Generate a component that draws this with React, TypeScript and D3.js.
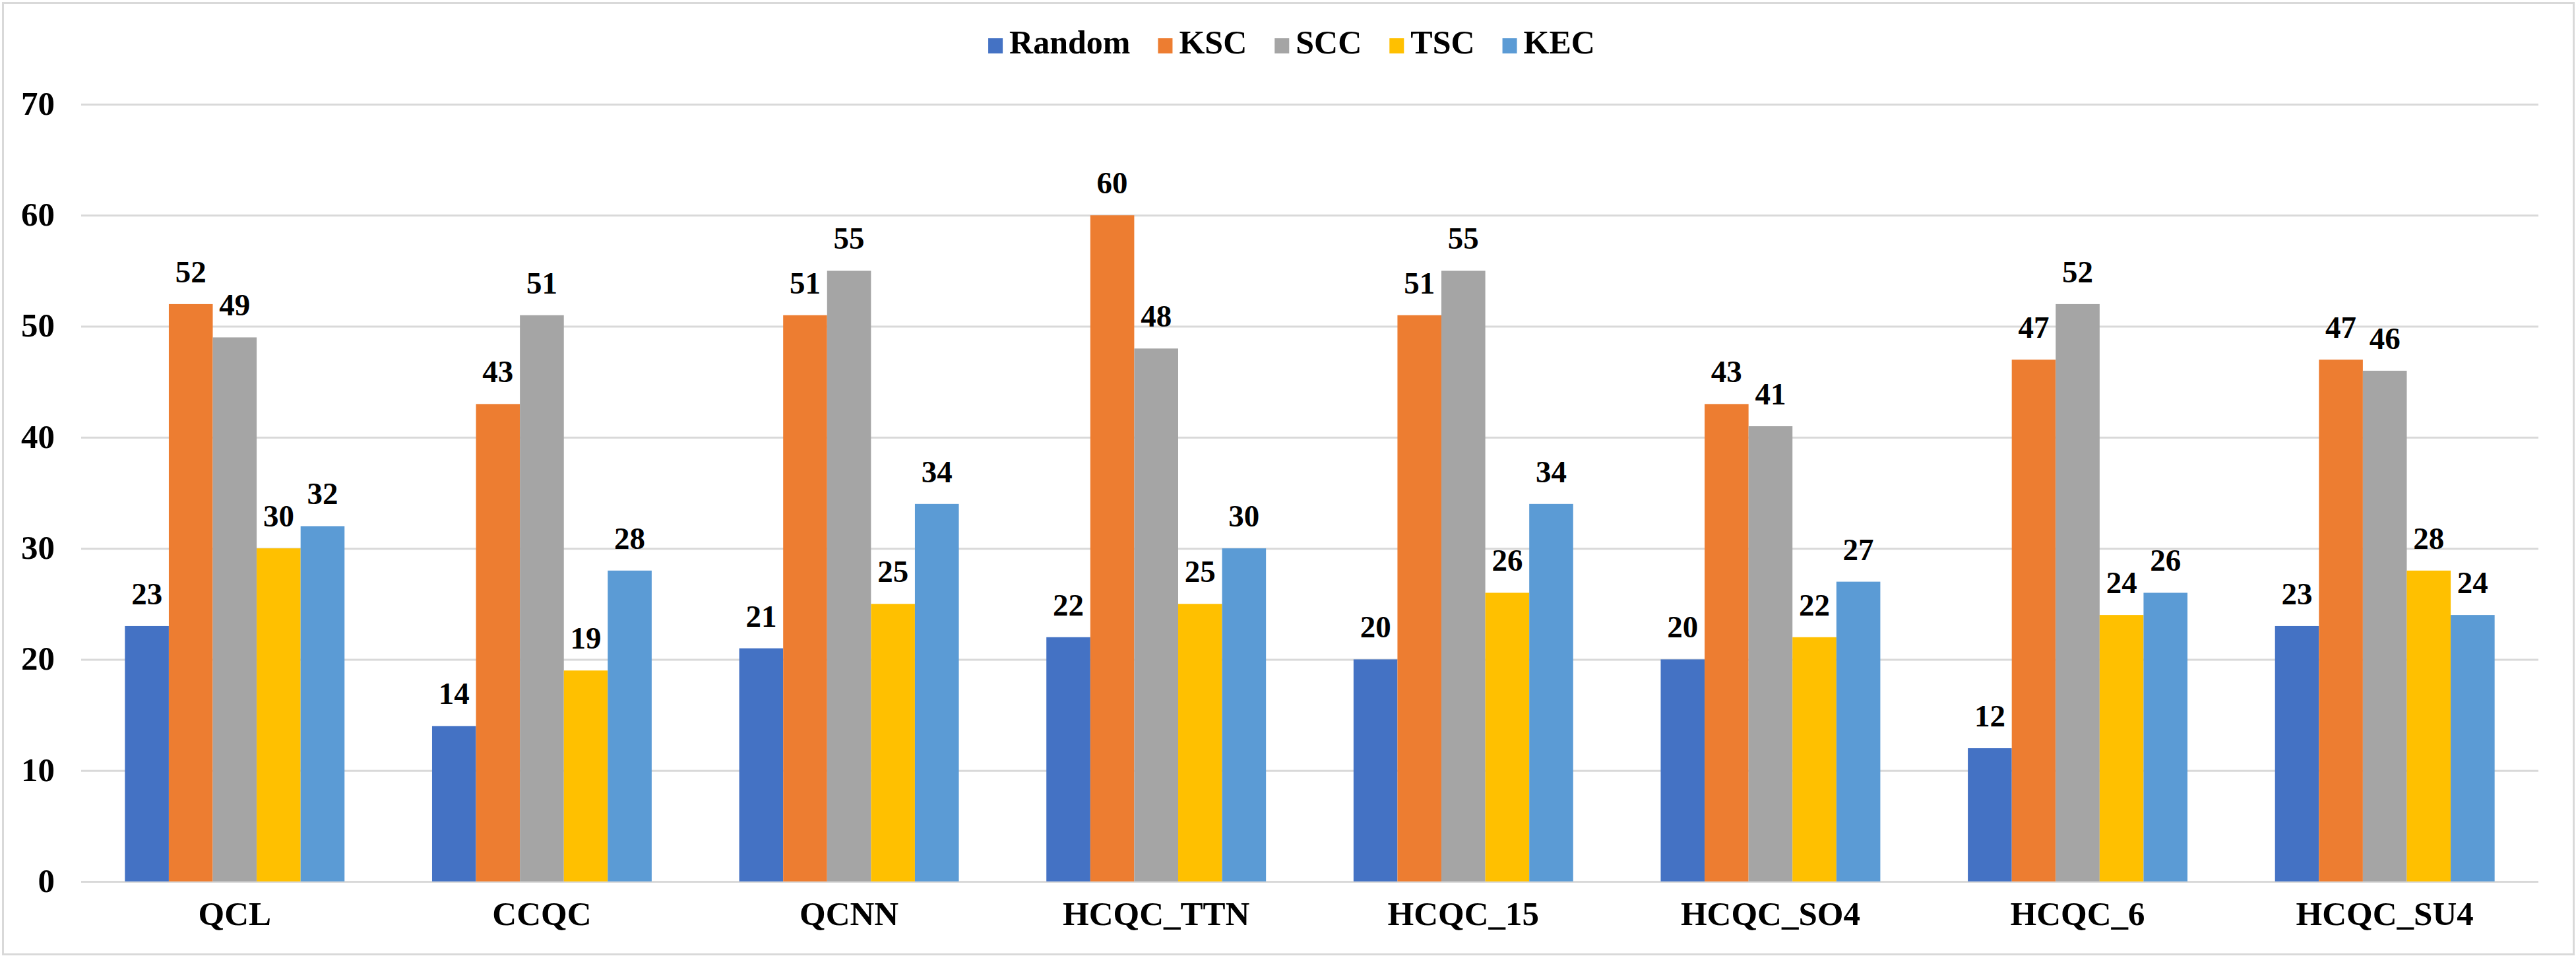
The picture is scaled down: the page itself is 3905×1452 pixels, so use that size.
import { useEffect, useRef } from "react";
import * as d3 from "d3";

const categories = [
  "QCL",
  "CCQC",
  "QCNN",
  "HCQC_TTN",
  "HCQC_15",
  "HCQC_SO4",
  "HCQC_6",
  "HCQC_SU4",
];

const seriesNames = ["Random", "KSC", "SCC", "TSC", "KEC"];

const randomValues = [23, 14, 21, 22, 20, 20, 12, 23];
const kscValues = [52, 43, 51, 60, 51, 43, 47, 47];
const sccValues = [49, 51, 55, 48, 55, 41, 52, 46];
const tscValues = [30, 19, 25, 25, 26, 22, 24, 28];
const kecValues = [32, 28, 34, 30, 34, 27, 26, 24];

const seriesValues = [randomValues, kscValues, sccValues, tscValues, kecValues];
const seriesColors = ["#4472C4", "#ED7D31", "#A5A5A5", "#FFC000", "#5B9BD5"];

const yTicks = [0, 10, 20, 30, 40, 50, 60, 70];

const width = 3905;
const height = 1452;
const margin = { top: 158, right: 57, bottom: 116, left: 123 };
const font = "'Liberation Serif', 'Times New Roman', serif";
const gridColor = "#d9d9d9";

export default function App() {
  const ref = useRef<SVGSVGElement>(null);

  useEffect(() => {
    if (!ref.current) return;
    const svg = d3.select(ref.current);
    svg.selectAll("*").remove();

    const x0 = d3
      .scaleBand<string>()
      .domain(categories)
      .range([margin.left, width - margin.right])
      .paddingInner(0.285)
      .paddingOuter(0.1425);

    const x1 = d3
      .scaleBand<string>()
      .domain(seriesNames)
      .range([0, x0.bandwidth()]);

    const y = d3
      .scaleLinear()
      .domain([0, 70])
      .range([height - margin.bottom, margin.top]);

    // chart frame
    svg
      .append("rect")
      .attr("x", 4.5)
      .attr("y", 4.5)
      .attr("width", width - 8)
      .attr("height", height - 10)
      .attr("fill", "#ffffff")
      .attr("stroke", gridColor)
      .attr("stroke-width", 3);

    // gridlines + y labels
    const yAxis = svg
      .append("g")
      .attr("transform", `translate(${margin.left},0)`)
      .call(
        d3
          .axisLeft(y)
          .tickValues(yTicks)
          .tickSize(-(width - margin.left - margin.right))
          .tickPadding(40)
          .tickFormat(d3.format("d")),
      );
    yAxis.select(".domain").remove();
    yAxis
      .selectAll(".tick line")
      .attr("stroke", gridColor)
      .attr("stroke-width", 3);
    yAxis
      .selectAll(".tick text")
      .attr("font-family", font)
      .attr("font-weight", "bold")
      .attr("font-size", 51)
      .attr("fill", "#000000")
      .attr("dy", "0.3em");

    // bars
    const groups = svg
      .append("g")
      .selectAll("g")
      .data(categories)
      .join("g")
      .attr("transform", (c) => `translate(${x0(c)},0)`);

    const cells = groups
      .selectAll("g")
      .data((_, ci) =>
        seriesNames.map((name, si) => ({
          name,
          value: seriesValues[si][ci],
          color: seriesColors[si],
        })),
      )
      .join("g");

    cells
      .append("rect")
      .attr("x", (d) => x1(d.name) ?? 0)
      .attr("y", (d) => y(d.value))
      .attr("width", x1.bandwidth())
      .attr("height", (d) => y(0) - y(d.value))
      .attr("fill", (d) => d.color);

    cells
      .append("text")
      .attr("x", (d) => (x1(d.name) ?? 0) + x1.bandwidth() / 2)
      .attr("y", (d) => y(d.value) - 33)
      .attr("text-anchor", "middle")
      .attr("font-family", font)
      .attr("font-weight", "bold")
      .attr("font-size", 47)
      .attr("fill", "#000000")
      .text((d) => d.value);

    // category labels
    const xAxis = svg
      .append("g")
      .attr("transform", `translate(0,${height - margin.bottom})`)
      .call(d3.axisBottom(x0).tickSize(0).tickPadding(30));
    xAxis.select(".domain").remove();
    xAxis
      .selectAll(".tick text")
      .attr("font-family", font)
      .attr("font-weight", "bold")
      .attr("font-size", 51)
      .attr("fill", "#000000")
      .attr("dy", "0.71em");

    // legend
    const legend = svg.append("g");
    const items = legend
      .selectAll("g")
      .data(seriesNames)
      .join("g");
    items
      .append("rect")
      .attr("y", 58)
      .attr("width", 22)
      .attr("height", 23)
      .attr("fill", (_, i) => seriesColors[i]);
    const labels = items
      .append("text")
      .attr("x", 32)
      .attr("y", 81)
      .attr("font-family", font)
      .attr("font-weight", "bold")
      .attr("font-size", 50)
      .attr("fill", "#000000")
      .text((d) => d);

    let offset = 0;
    const offsets: number[] = [];
    labels.each(function () {
      offsets.push(offset);
      offset += 32 + (this as SVGTextElement).getComputedTextLength() + 42;
    });
    const total = offset - 42;
    const start = 1958 - total / 2;
    items.attr("transform", (_, i) => `translate(${start + offsets[i]},0)`);
  }, []);

  return (
    <svg
      ref={ref}
      width={width}
      height={height}
      viewBox={`0 0 ${width} ${height}`}
      style={{ position: "fixed", left: 0, top: 0, background: "#ffffff" }}
    />
  );
}
